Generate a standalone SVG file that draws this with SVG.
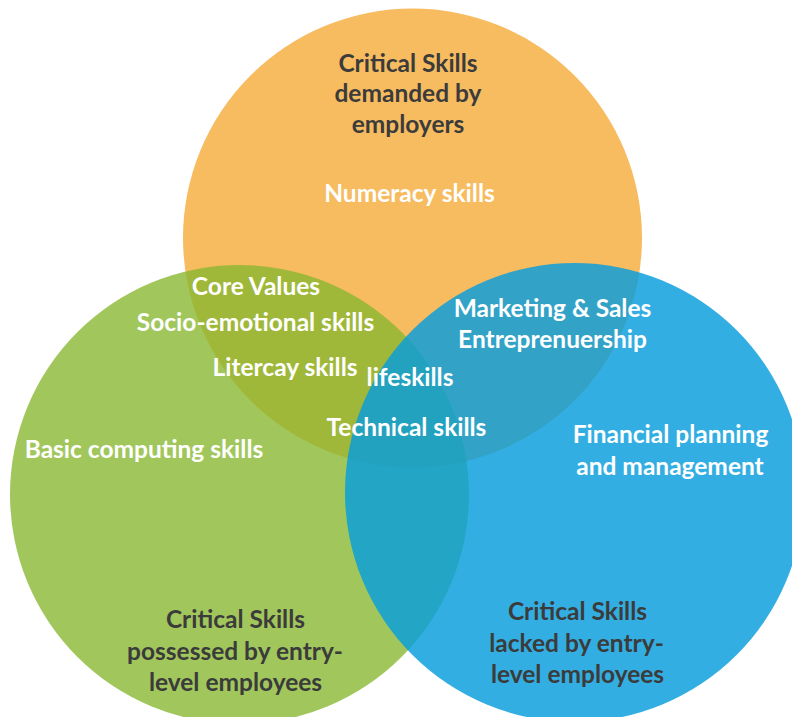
<svg xmlns="http://www.w3.org/2000/svg" width="792" height="717" viewBox="0 0 792 717">
<style>
text{font-family:Lato,"Open Sans","Liberation Sans",sans-serif;font-weight:bold;font-size:24.5px;text-anchor:middle}
.w{fill:#ffffff}
.d{fill:#3b3b3b}
</style>
<rect width="792" height="717" fill="#ffffff"/>
<g id="circle-employers">
<circle cx="412.5" cy="238" r="229.5" fill="#f7bb60"/>
</g>
<g id="circle-possessed">
<circle cx="239.5" cy="494.5" r="229.5" fill="#86b72e" fill-opacity="0.78"/>
</g>
<g id="circle-lacked">
<circle cx="574.5" cy="492.5" r="229.5" fill="#0a9edc" fill-opacity="0.83"/>
</g>
<g id="labels">
<text class="d" x="408" y="72">Critical Skills</text>
<text class="d" x="408" y="102">demanded by</text>
<text class="d" x="408" y="133">employers</text>
<text class="w" x="409.5" y="202">Numeracy skills</text>
<text class="w" x="256" y="295">Core Values</text>
<text class="w" x="255.5" y="331">Socio-emotional skills</text>
<text class="w" x="285" y="376">Litercay skills</text>
<text class="w" x="410" y="386">lifeskills</text>
<text class="w" x="406.5" y="436">Technical skills</text>
<text class="w" x="144" y="458">Basic computing skills</text>
<text class="w" x="552.5" y="317">Marketing &amp; Sales</text>
<text class="w" x="552.5" y="348">Entreprenuership</text>
<text class="w" x="670.5" y="443">Financial planning</text>
<text class="w" x="670" y="475">and management</text>
<text class="d" x="235.5" y="628">Critical Skills</text>
<text class="d" x="235" y="660">possessed by entry-</text>
<text class="d" x="235.5" y="691">level employees</text>
<text class="d" x="577.5" y="620">Critical Skills</text>
<text class="d" x="576.5" y="652">lacked by entry-</text>
<text class="d" x="577.5" y="683">level employees</text>
</g>
</svg>
